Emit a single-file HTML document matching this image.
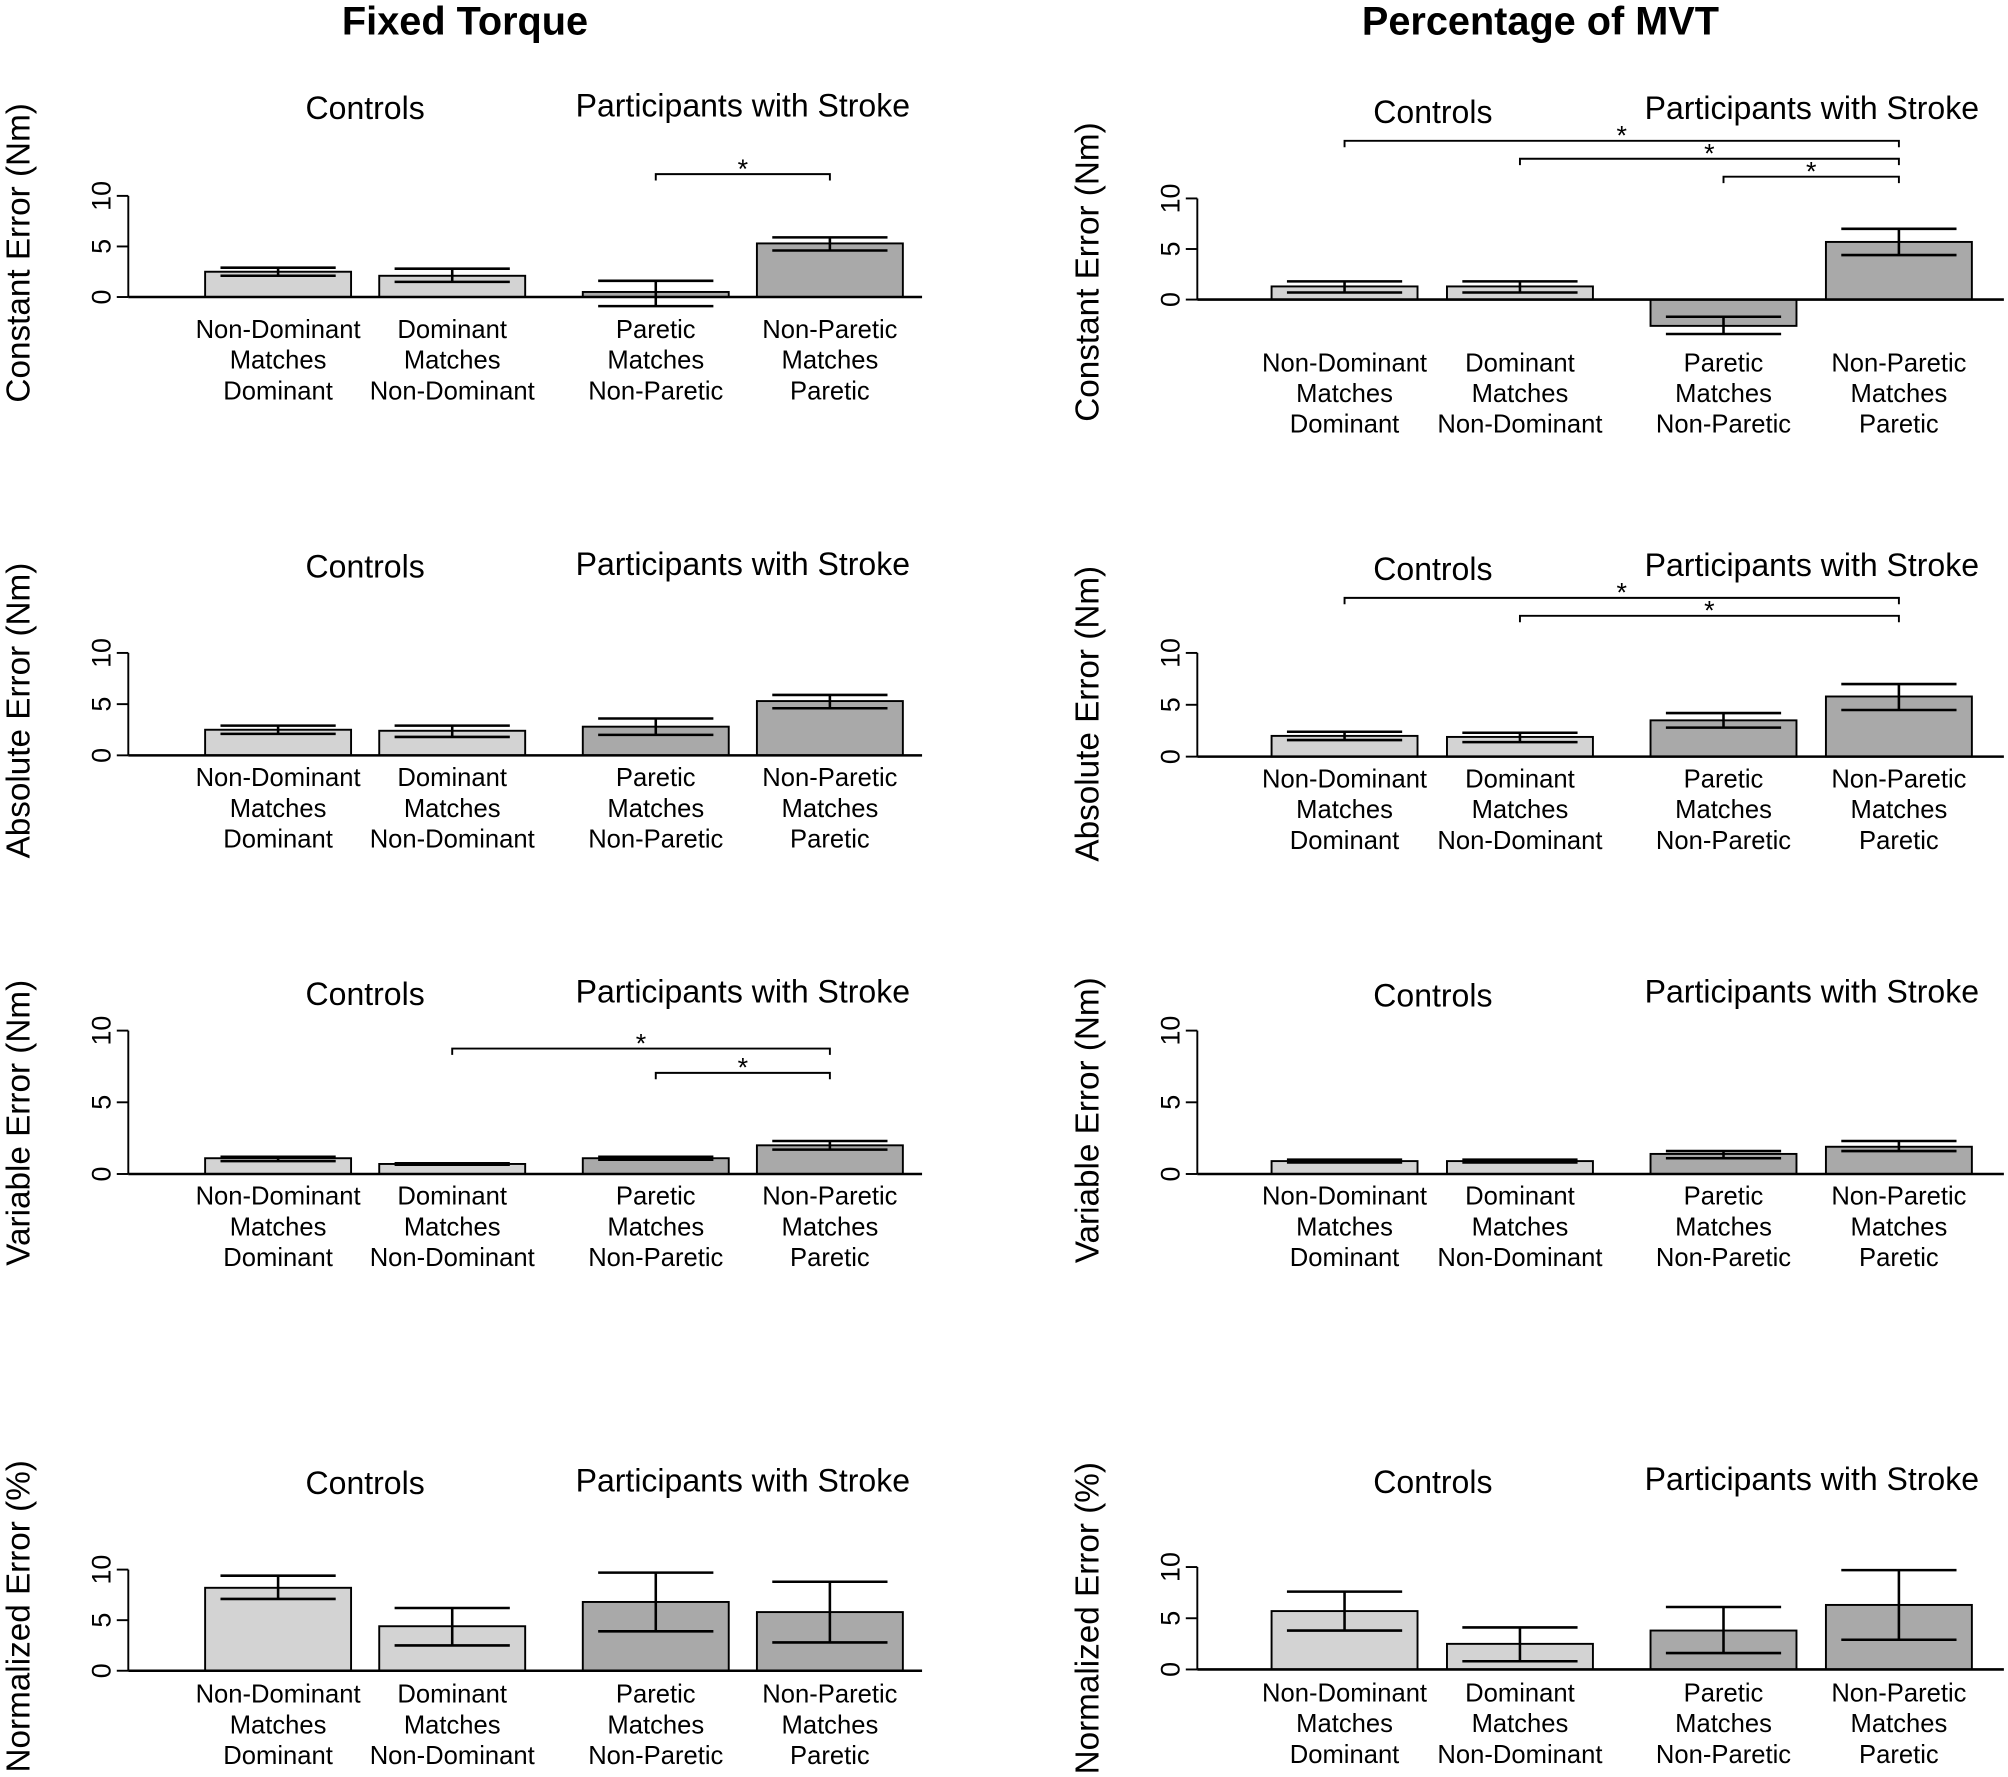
<!DOCTYPE html>
<html><head><meta charset="utf-8"><style>
html,body{margin:0;padding:0;background:#fff}
svg{display:block}
text{font-family:"Liberation Sans",sans-serif;fill:#000}
</style></head><body>
<svg id="chart" width="2008" height="1777" viewBox="0 0 1568 1388" xmlns="http://www.w3.org/2000/svg">
<text x="363" y="27" font-size="31" font-weight="bold" text-anchor="middle">Fixed Torque</text>
<text x="1203" y="27" font-size="31" font-weight="bold" text-anchor="middle">Percentage of MVT</text>
</svg>
<script>
const categories = [["Non-Dominant","Matches","Dominant"],["Dominant","Matches","Non-Dominant"],["Paretic","Matches","Non-Paretic"],["Non-Paretic","Matches","Paretic"]];
const yTicks = [0,5,10];
const yTitles = ["Constant Error (Nm)","Absolute Error (Nm)","Variable Error (Nm)","Normalized Error (%)"];
const ftValues = [[2.5,2.1,0.5,5.3],[2.5,2.4,2.8,5.3],[1.1,0.7,1.1,2.0],[8.2,4.4,6.8,5.8]];
const ftLow = [[2.1,1.5,-0.9,4.6],[2.1,1.8,2.0,4.6],[0.9,0.65,1.0,1.7],[7.1,2.5,3.9,2.8]];
const ftHigh = [[2.9,2.8,1.6,5.9],[2.9,2.9,3.6,5.9],[1.2,0.75,1.2,2.3],[9.4,6.2,9.7,8.8]];
const mvtValues = [[1.3,1.3,-2.6,5.7],[2.0,1.9,3.5,5.8],[0.9,0.9,1.4,1.9],[5.7,2.5,3.8,6.3]];
const mvtLow = [[0.7,0.7,-1.7,4.4],[1.6,1.4,2.8,4.5],[0.8,0.8,1.1,1.6],[3.8,0.8,1.6,2.9]];
const mvtHigh = [[1.8,1.8,-3.4,7.0],[2.4,2.3,4.2,7.0],[1.0,1.0,1.6,2.3],[7.6,4.1,6.1,9.7]];
const ftSig = [[[2,3]],[],[[1,3],[2,3]],[]];
const mvtSig = [[[0,3],[1,3],[2,3]],[[0,3],[1,3]],[],[]];

const NS="http://www.w3.org/2000/svg";
const svg=document.getElementById('chart');
function mk(tag,attrs,parent){const e=document.createElementNS(NS,tag);for(const k in attrs)e.setAttribute(k,attrs[k]);(parent||svg).appendChild(e);return e;}

const cols=[
 {axisX:100,endX:720,centers:[217,353,512,648],ctrl:285,stroke:580,vals:ftValues,lo:ftLow,hi:ftHigh,sig:ftSig,
  rows:[{y0:232,y10:153,sub:[93,91],lab:257,sigY:[136],tOff:5},{y0:590,y10:510,sub:[451,449],lab:607,sigY:[],tOff:5},
        {y0:917,y10:805,sub:[785,783],lab:934,sigY:[819,838],tOff:16},{y0:1305,y10:1226,sub:[1167,1165],lab:1323,sigY:[],tOff:-3}],name:'fixed'},
 {axisX:935,endX:1565,centers:[1050,1187,1346,1483],ctrl:1119,stroke:1415,vals:mvtValues,lo:mvtLow,hi:mvtHigh,sig:mvtSig,
  rows:[{y0:234,y10:155,sub:[96,93],lab:283,sigY:[110,124,138],tOff:18},{y0:591,y10:510,sub:[453,450],lab:608,sigY:[467,481],tOff:7},
        {y0:917,y10:805,sub:[786,783],lab:934,sigY:[],tOff:14},{y0:1304,y10:1224,sub:[1166,1164],lab:1322,sigY:[],tOff:0}],name:'mvt'}
];
const rowNames=['constant','absolute','variable','normalized'];
cols.forEach((c,ci)=>{
 c.rows.forEach((r,ri)=>{
  const g=mk('g',{});
  
  
  const sc=v=>r.y0+(r.y10-r.y0)*v/10;
  let t=mk('text',{x:c.ctrl,y:r.sub[0],'font-size':25,'text-anchor':'middle'},g);t.textContent='Controls';
  
  
  t=mk('text',{x:c.stroke,y:r.sub[1],'font-size':25,'text-anchor':'middle'},g);t.textContent='Participants with Stroke';
  
  
  const ax=mk('line',{x1:c.axisX,x2:c.axisX,y1:sc(0),y2:sc(10),stroke:'#000','stroke-width':1.5},g);
  
  
  yTicks.forEach(v=>{
   mk('line',{x1:c.axisX-9,x2:c.axisX,y1:sc(v),y2:sc(v),stroke:'#000','stroke-width':1.5},g);
   const tl=mk('text',{x:0,y:0,'font-size':21,'text-anchor':'middle',transform:`translate(${c.axisX-14},${sc(v)}) rotate(-90)`},g);
   tl.textContent=v;
   
   
  });
  const yt=mk('text',{x:0,y:0,'font-size':26,'text-anchor':'middle',transform:`translate(${c.axisX-77},${(sc(0)+sc(10))/2+r.tOff}) rotate(-90)`},g);
  yt.textContent=yTitles[ri];
  
  
  c.centers.forEach((cx,bi)=>{
   const v=c.vals[ri][bi];
   const b=mk('rect',{x:cx-57,width:114,y:Math.min(sc(v),sc(0)),height:Math.abs(sc(v)-sc(0)),fill:bi<2?'#d3d3d3':'#a9a9a9',stroke:'#000','stroke-width':1.5},g);
   
   
   const lo=c.lo[ri][bi],hi=c.hi[ri][bi];
   const eb=mk('g',{stroke:'#000','stroke-width':2},g);
   
   
   mk('line',{x1:cx,x2:cx,y1:sc(lo),y2:sc(hi)},eb);
   mk('line',{x1:cx-45,x2:cx+45,y1:sc(lo),y2:sc(lo)},eb);
   mk('line',{x1:cx-45,x2:cx+45,y1:sc(hi),y2:sc(hi)},eb);
   categories[bi].forEach((s,li)=>{
    const ct=mk('text',{x:cx,y:r.lab+7+li*24,'font-size':20,'text-anchor':'middle'},g);
    ct.textContent=s;
    
    
   });
  });
  const bl=mk('line',{x1:c.axisX,x2:c.endX,y1:sc(0),y2:sc(0),stroke:'#000','stroke-width':2},g);
  
  
  c.sig[ri].forEach((p,si)=>{
   const y=r.sigY[si],x1=c.centers[p[0]],x2=c.centers[p[1]];
   const sg=mk('g',{},g);
   
   
   mk('path',{d:`M${x1},${y+5}V${y}H${x2}V${y+5}`,fill:'none',stroke:'#000','stroke-width':1.5},sg);
   const st=mk('text',{x:(x1+x2)/2,y:y+3,'font-size':21,'text-anchor':'middle'},sg);
   st.textContent='*';
  });
 });
});
</script>
</body></html>
